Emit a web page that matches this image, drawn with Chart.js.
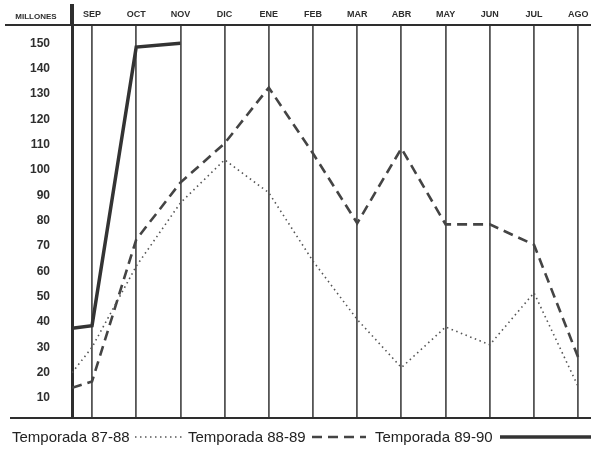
<!DOCTYPE html>
<html><head><meta charset="utf-8">
<script src="https://cdn.jsdelivr.net/npm/chart.js@4"></script>
<style>html,body{margin:0;padding:0;background:#fff;}#wrap{width:591px;height:449px;position:relative;}</style>
</head><body><div id="wrap"><canvas id="c"></canvas></div>
<script>
const months = ['SEP','OCT','NOV','DIC','ENE','FEB','MAR','ABR','MAY','JUN','JUL','AGO'];
const startPos = 0.55; // season start, just before SEP
const yTicks = [10,20,30,40,50,60,70,80,90,100,110,120,130,140,150];
const yAxisTitle = 'MILLONES';
const seriesLabels = ['Temporada 87-88','Temporada 88-89','Temporada 89-90'];
const t8788 = [20, 30, 62, 87, 104, 91, 64, 41, 22, 38, 31, 51.5, 14.5];
const t8889 = [14, 16.5, 72.5, 95, 110.5, 132.5, 106.5, 79, 108.5, 78.5, 78.5, 70.5, 26];
const t8990 = [37.5, 38.5, 148.5, 150];

const positions = [startPos].concat(months.map((m,i)=>i+1));
const pts = vals => vals.map((v,i)=>({x:positions[i], y:v}));
const FONT = '"Liberation Sans", Arial, Helvetica, sans-serif';
const INK = '#2e2e2e';

const extras = {
  id:'extras',
  afterDraw(chart){
    const ctx = chart.ctx, a = chart.chartArea;
    ctx.save();
    ctx.strokeStyle = INK; ctx.lineCap='butt';
    ctx.lineWidth = 2;
    ctx.beginPath(); ctx.moveTo(5, a.top); ctx.lineTo(a.left, a.top); ctx.stroke();
    ctx.beginPath(); ctx.moveTo(10, a.bottom); ctx.lineTo(chart.width, a.bottom); ctx.stroke();
    ctx.lineWidth = 4;
    ctx.beginPath(); ctx.moveTo(a.left, 4); ctx.lineTo(a.left, a.top); ctx.stroke();
    ctx.fillStyle = INK;
    ctx.font = 'bold 8px ' + FONT;
    ctx.textAlign='center'; ctx.textBaseline='alphabetic';
    ctx.fillText(yAxisTitle, 36, 19);
    ctx.font = '15px ' + FONT;
    ctx.textAlign='left';
    const ly = 437, base = 442;
    const starts = [12, 188, 375];
    const samples = [[135,184],[312,366],[500,591]];
    chart.data.datasets.forEach((ds,i)=>{
      ctx.fillStyle = '#222';
      ctx.fillText(ds.label, starts[i], base);
      ctx.strokeStyle = ds.borderColor;
      ctx.lineWidth = ds.borderWidth;
      ctx.setLineDash(ds.borderDash || []);
      ctx.beginPath(); ctx.moveTo(samples[i][0], ly); ctx.lineTo(samples[i][1], ly); ctx.stroke();
    });
    ctx.restore();
  }
};

new Chart(document.getElementById('c'), {
  type:'line',
  data:{datasets:[
    {label:seriesLabels[0], data:pts(t8788), borderColor:'#555', borderWidth:1.6, borderDash:[1.5,3.5], pointRadius:0, tension:0, fill:false},
    {label:seriesLabels[1], data:pts(t8889), borderColor:'#444', borderWidth:2.6, borderDash:[10,6], pointRadius:0, tension:0, fill:false},
    {label:seriesLabels[2], data:pts(t8990), borderColor:'#333', borderWidth:3.5, pointRadius:0, tension:0, fill:false}
  ]},
  options:{
    responsive:true, maintainAspectRatio:false, animation:false,
    layout:{padding:{left:0,right:0,top:0,bottom:31}},
    plugins:{legend:{display:false}, tooltip:{enabled:false}},
    scales:{
      x:{type:'linear', position:'top', min:0.547, max:12.29,
        afterBuildTicks:s=>{s.ticks = months.map((m,i)=>({value:i+1}));},
        afterFit:s=>{s.height=25; s.paddingLeft=0; s.paddingRight=0;},
        ticks:{callback:v=>months[v-1], font:{family:FONT,size:9,weight:'bold'}, color:INK, padding:5, maxRotation:0, autoSkip:false},
        grid:{color:'#555', lineWidth:1.8, drawTicks:false},
        border:{display:true, color:INK, width:2}
      },
      y:{type:'linear', min:2.1, max:157.2,
        afterBuildTicks:s=>{s.ticks = yTicks.map(v=>({value:v}));},
        afterFit:s=>{s.width=72; s.paddingTop=0; s.paddingBottom=0;},
        ticks:{font:{family:FONT,size:12,weight:'bold'}, color:INK, padding:22},
        grid:{display:false, drawTicks:false},
        border:{display:true, color:INK, width:3}
      }
    }
  },
  plugins:[extras]
});
</script></body></html>
